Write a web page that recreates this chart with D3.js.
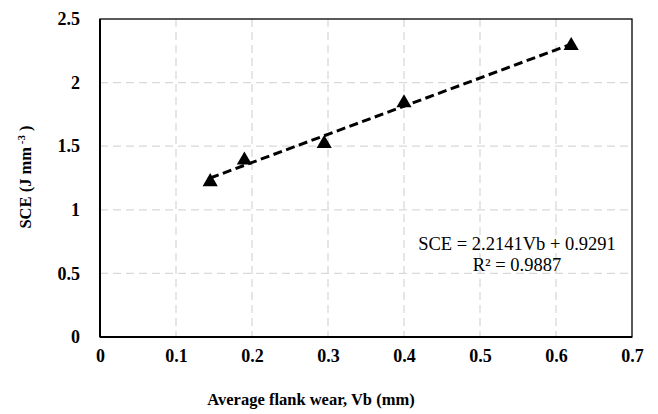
<!DOCTYPE html>
<html>
<head>
<meta charset="utf-8">
<script src="https://cdn.jsdelivr.net/npm/d3@7"></script>
<style>
  body { margin: 0; background: #fff; }
  text { font-family: "Liberation Serif", "Times New Roman", serif; }
</style>
</head>
<body>
<div class="container"></div>
<script>
// measured points
var wear = [0.145, 0.19, 0.295, 0.40, 0.62];
var sce = [1.22, 1.39, 1.52, 1.84, 2.29];
// linear fit shown on chart
var slope = 2.2141;
var intercept = 0.9291;
var xTicks = [0, 0.1, 0.2, 0.3, 0.4, 0.5, 0.6, 0.7];
var yTicks = [0, 0.5, 1, 1.5, 2, 2.5];

var width = 658, height = 414;
var plotLeft = 100, plotRight = 632, plotTop = 19, plotBottom = 337;

var svg = d3.select(".container").append("svg")
    .attr("width", width)
    .attr("height", height);

var x = d3.scaleLinear().domain([0, 0.7]).range([plotLeft, plotRight]);
var y = d3.scaleLinear().domain([0, 2.5]).range([plotBottom, plotTop]);

// grid
svg.append("g").selectAll("line")
    .data(xTicks.slice(1, -1))
    .enter().append("line")
    .attr("x1", d => x(d)).attr("x2", d => x(d))
    .attr("y1", plotTop).attr("y2", plotBottom)
    .attr("stroke", "#d9d9d9").attr("stroke-width", 1.3)
    .attr("stroke-dasharray", "8,5");
svg.append("g").selectAll("line")
    .data(yTicks.slice(1, -1))
    .enter().append("line")
    .attr("x1", plotLeft).attr("x2", plotRight)
    .attr("y1", d => y(d)).attr("y2", d => y(d))
    .attr("stroke", "#d9d9d9").attr("stroke-width", 1.3)
    .attr("stroke-dasharray", "8,5");

// frame
svg.append("rect")
    .attr("x", plotLeft).attr("y", plotTop)
    .attr("width", plotRight - plotLeft).attr("height", plotBottom - plotTop)
    .attr("fill", "none").attr("stroke", "#000").attr("stroke-width", 1.3);
// axis lines
svg.append("line").attr("x1", plotLeft).attr("x2", plotLeft).attr("y1", plotTop).attr("y2", plotBottom)
    .attr("stroke", "#000").attr("stroke-width", 2);
svg.append("line").attr("x1", plotLeft).attr("x2", plotRight).attr("y1", plotBottom).attr("y2", plotBottom)
    .attr("stroke", "#000").attr("stroke-width", 2);

// tick labels
var xAxis = svg.append("g").attr("transform", "translate(0," + (plotBottom + 9) + ")")
    .call(d3.axisBottom(x).tickValues(xTicks).tickSize(0).tickFormat(d3.format("")));
xAxis.select(".domain").remove();
xAxis.selectAll("text")
    .attr("font-family", "Liberation Serif").attr("font-size", 18).attr("font-weight", "bold")
    .attr("fill", "#000").attr("dy", "0.71em");

var yAxis = svg.append("g").attr("transform", "translate(" + (plotLeft - 17) + ",0)")
    .call(d3.axisLeft(y).tickValues(yTicks).tickSize(0).tickFormat(d3.format("")));
yAxis.select(".domain").remove();
yAxis.selectAll("text")
    .attr("font-family", "Liberation Serif").attr("font-size", 18).attr("font-weight", "bold")
    .attr("fill", "#000");

// trendline
var fitX = [d3.min(wear), d3.max(wear)];
svg.append("path")
    .datum(fitX)
    .attr("fill", "none").attr("stroke", "#000").attr("stroke-width", 3)
    .attr("stroke-dasharray", "9,4.5")
    .attr("d", d3.line().x(d => x(d)).y(d => y(slope * d + intercept)));

// markers
svg.append("g").selectAll("path")
    .data(wear)
    .enter().append("path")
    .attr("d", d3.symbol().type(d3.symbolTriangle).size(100))
    .attr("transform", (d, i) => "translate(" + x(d) + "," + y(sce[i]) + ")")
    .attr("fill", "#000");

// equation
var eq = svg.append("text")
    .attr("x", 517).attr("y", 250)
    .attr("text-anchor", "middle").attr("font-size", 18.5).attr("fill", "#000");
eq.append("tspan").attr("x", 517).text("SCE = 2.2141Vb + 0.9291");
eq.append("tspan").attr("x", 517).attr("dy", 21).text("R² = 0.9887");

// axis titles
svg.append("text")
    .attr("x", 311).attr("y", 405)
    .attr("text-anchor", "middle").attr("font-size", 16.5).attr("font-weight", "bold")
    .text("Average flank wear, Vb (mm)");

var yt = svg.append("text")
    .attr("transform", "translate(31,177) rotate(-90)")
    .attr("text-anchor", "middle").attr("font-size", 16.5).attr("font-weight", "bold");
yt.append("tspan").text("SCE (J mm");
yt.append("tspan").attr("dy", -6).attr("font-size", 11).text(" -3");
yt.append("tspan").attr("dy", 6).text(" )");
</script>
</body>
</html>
